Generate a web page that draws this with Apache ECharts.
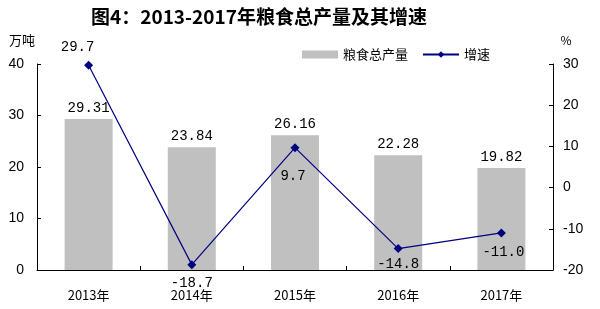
<!DOCTYPE html>
<html><head><meta charset="utf-8">
<script src="https://cdn.jsdelivr.net/npm/echarts@6/dist/echarts.min.js"></script>
<style>html,body{margin:0;padding:0;background:#fff}#c{width:600px;height:309px}</style>
</head><body><div id="c"></div>
<script>
var categories = ['2013年','2014年','2015年','2016年','2017年'];
var production = [29.31, 23.84, 26.16, 22.28, 19.82];
var growth = [29.7, -18.7, 9.7, -14.8, -11.0];
var growthLabels = ['29.7','-18.7','9.7','-14.8','-11.0'];

var monoFont = '"Liberation Mono", "DejaVu Sans Mono", monospace';
var labelOffsets = [[-11,4],[0,0],[-2,0],[0,0],[2,0]];
var labelPos = ['top','bottom','bottom','bottom','bottom'];
var labelDist = [10,7,17,4,8];

var chart = echarts.init(document.getElementById('c'));
chart.setOption({
  animation:false,
  backgroundColor:'#fff',
  title:{text:'图4：2013-2017年粮食总产量及其增速', left:86, top:2,
    textStyle:{fontFamily:'"Noto Sans CJK SC"', fontSize:19, fontWeight:'bold', color:'#000'}},
  legend:{top:43, left:297, itemGap:14, itemWidth:36, itemHeight:8,
    textStyle:{fontFamily:'"Noto Sans CJK SC"', fontSize:13, color:'#000'},
    data:[{name:'粮食总产量', icon:'rect'},{name:'增速'}]},
  grid:{left:37, right:47, top:64, bottom:39},
  xAxis:{type:'category', data:categories, boundaryGap:true,
    axisLine:{lineStyle:{color:'#000', width:1}},
    axisTick:{show:true, inside:true, length:4, lineStyle:{color:'#000'}},
    axisLabel:{color:'#000', fontFamily:'"Noto Sans CJK SC"', fontSize:13, margin:19}},
  yAxis:[
    {type:'value', min:0, max:40, interval:10, name:'万吨', nameLocation:'end',
      nameGap:17, nameTextStyle:{fontFamily:'"Noto Sans CJK SC"', fontSize:13, color:'#000', align:'right', padding:[0,2,0,0]},
      axisLine:{show:true, lineStyle:{color:'#000'}},
      axisTick:{show:true, inside:true, length:4, lineStyle:{color:'#000'}},
      splitLine:{show:false},
      axisLabel:{color:'#000', fontFamily:'Arial, "Liberation Sans"', fontSize:14, margin:13}},
    {type:'value', min:-20, max:30, interval:10, name:'%', nameLocation:'end',
      nameGap:18, nameTextStyle:{fontFamily:'"Noto Sans CJK SC"', fontSize:12, color:'#000', padding:[0,0,0,26]},
      axisLine:{show:true, lineStyle:{color:'#000'}},
      axisTick:{show:true, inside:true, length:4, lineStyle:{color:'#000'}},
      splitLine:{show:false},
      axisLabel:{color:'#000', fontFamily:'Arial, "Liberation Sans"', fontSize:14, margin:10}}
  ],
  series:[
    {name:'粮食总产量', type:'bar', yAxisIndex:0, barWidth:48, data:production,
      itemStyle:{color:'#C0C0C0'},
      label:{show:true, position:'top', distance:4, color:'#000', fontFamily:monoFont, fontSize:14,
        formatter:function(p){return p.value.toFixed(2);}}},
    {name:'增速', type:'line', yAxisIndex:1, z:5,
      data:growth.map(function(v,i){return {value:v, label:{position:labelPos[i], distance:labelDist[i], offset:labelOffsets[i]}};}),
      symbol:'diamond', symbolSize:9,
      lineStyle:{color:'#000080', width:1.2},
      itemStyle:{color:'#000080'},
      label:{show:true, color:'#000', fontFamily:monoFont, fontSize:14,
        formatter:function(p){return growthLabels[p.dataIndex];}}}
  ]
});
</script></body></html>
